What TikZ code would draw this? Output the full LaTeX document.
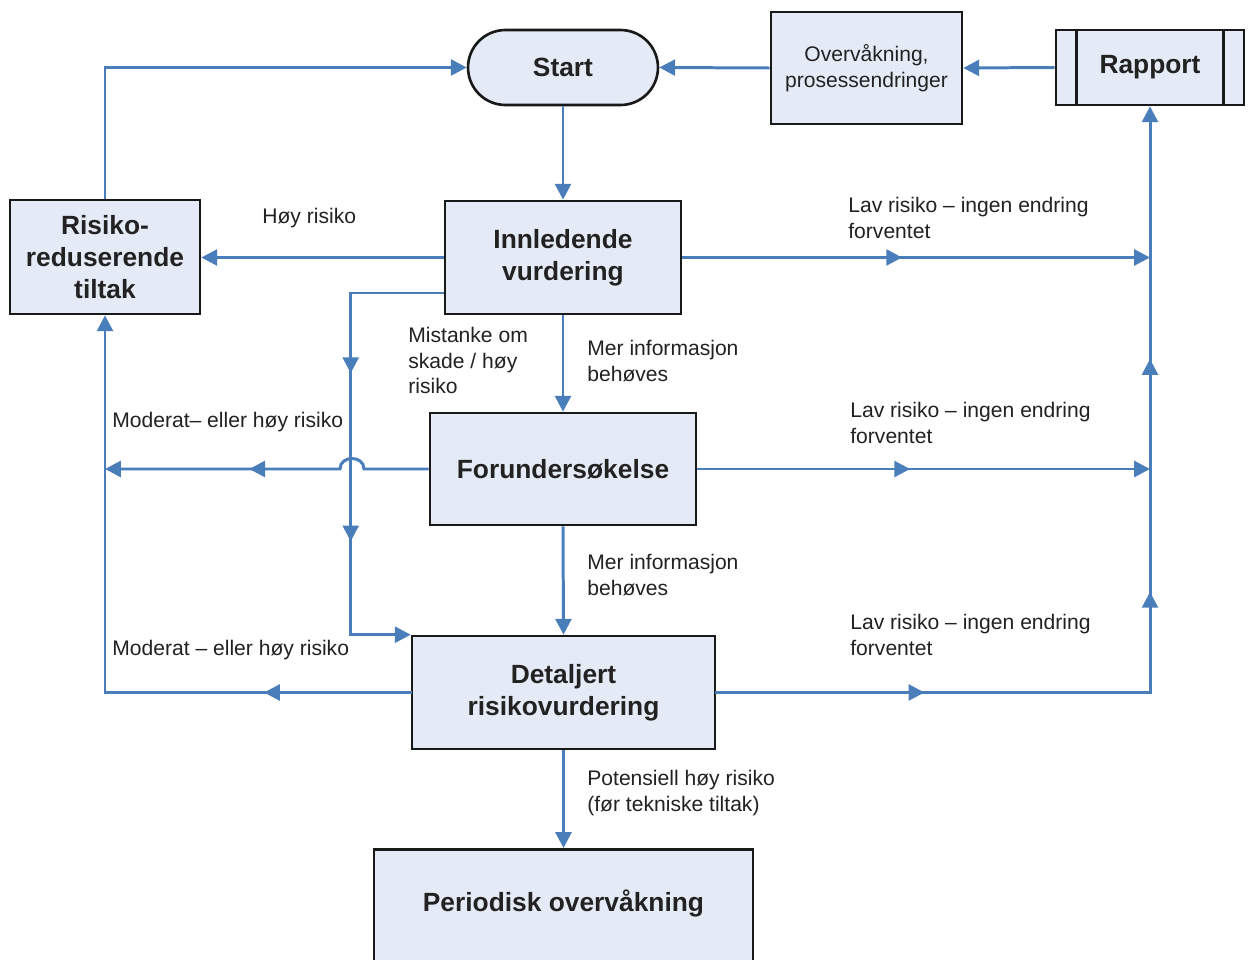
\documentclass[tikz,border=0pt]{standalone}
\usepackage{fontspec}
\setmainfont{Liberation Sans}
\usetikzlibrary{arrows.meta,shapes.misc,decorations.markings,calc}
\definecolor{flowblue}{RGB}{74,126,187}
\definecolor{boxfill}{RGB}{229,235,246}
\definecolor{txt}{RGB}{34,34,34}
\begin{document}
\begin{tikzpicture}[x=0.02cm,y=-0.02cm,
  box/.style={draw=black!90, line width=1.5pt, fill=boxfill, align=center, text=txt, font=\fontsize{15}{18}\selectfont\bfseries, inner sep=0pt},
  small/.style={font=\fontsize{12}{14.6}\selectfont, text=txt, align=left, inner sep=0pt, anchor=west},
  flow/.style={color=flowblue, line width=1.7pt},
  tip/.style={-{Triangle[length=9pt,width=9pt]}},
  midarrow/.style={postaction={decorate}, decoration={markings, mark=at position #1 with {\arrow{Triangle[length=9pt,width=9pt]}}}},
  twoarrows/.style 2 args={postaction={decorate}, decoration={markings, mark=at position #1 with {\arrow{Triangle[length=9pt,width=9pt]}}, mark=at position #2 with {\arrow{Triangle[length=9pt,width=9pt]}}}},
]
\useasboundingbox (0,0) rectangle (1248,960);
\clip (0,0) rectangle (1248,960);
\fill[white] (0,0) rectangle (1248,960);

% boxes
\node[box, rounded rectangle, minimum width=3.8cm, minimum height=1.5cm] (start) at (563,67.5) {Start};
\node[box, font=\fontsize{12}{14.5}\selectfont, minimum width=3.82cm, minimum height=2.24cm] (ov) at (866.5,68) {Overvåkning,\\prosessendringer};
\node[box, minimum width=3.76cm, minimum height=1.5cm] (rap) at (1150,67.5) {Rapport};
\draw[line width=1.5pt, draw=black!90] ([xshift=0.44cm]rap.north west) -- ([xshift=0.44cm]rap.south west);
\draw[line width=1.5pt, draw=black!90] ([xshift=-0.44cm]rap.north east) -- ([xshift=-0.44cm]rap.south east);
\node[box, minimum width=3.8cm, minimum height=2.28cm] (ris) at (105,257) {Risiko-\\reduserende\\tiltak};
\node[box, minimum width=4.72cm, minimum height=2.26cm] (inn) at (563,257.5) {Innledende\\vurdering};
\node[box, minimum width=5.32cm, minimum height=2.24cm] (for) at (563,469) {Forundersøkelse};
\node[box, minimum width=6.06cm, minimum height=2.26cm] (det) at (563.5,692.5) {Detaljert\\risikovurdering};
\node[box, minimum width=7.58cm, minimum height=2.8cm, anchor=north] (per) at (563.5,848) {};
\node[box, draw=none, fill=none] (pertext) at (563.5,903) {Periodisk overvåkning};

% coordinates
\coordinate (r1) at (1150,257.5);
\coordinate (r2) at (1150,469);
\coordinate (r3) at (1150,692.5);
\coordinate (l2) at (105,469);
\coordinate (l3) at (105,692.5);
\coordinate (m0) at ($(inn.west)+(0,35.5)$);
\coordinate (m1) at ($(det.north west)+(-60,0)$);
\coordinate (j1) at (364,469);
\coordinate (j2) at (340,469);

% straight connectors
\draw[flow,tip] (start.south) -- (inn.north);
\draw[flow,tip] (ov.west) -- (start.east);
\draw[flow,tip] (rap.west) -- (ov.east);
\draw[flow,tip] (ris.north) |- (start.west);
\draw[flow,tip] (inn.west) -- (inn.west -| ris.east);
\draw[flow,tip] (inn.south) -- (for.north);
\draw[flow,tip] (for.south) -- (det.north);
\draw[flow,tip] (det.south) -- (per.north);

% right side
\draw[flow,tip,midarrow=0.47] (inn.east) -- (r1);
\draw[flow,tip,midarrow=0.47] (for.east) -- (r2);
\draw[flow,line cap=rect,midarrow=0.48] (det.east) -- (r3);
\draw[flow,line cap=rect,midarrow=0.45] (r3) -- (r2);
\draw[flow,midarrow=0.52] (r2) -- (r1);
\draw[flow,tip] (r1) -- (rap.south);

% left side
\draw[flow,tip,midarrow=0.57] (for.west) -- (j1) .. controls (364,455) and (340,455) .. (j2) -- (l2);
\draw[flow,line cap=rect,midarrow=0.48] (det.west) -- (l3);
\draw[flow,tip] (l3) -- (ris.south);
\draw[flow,tip,twoarrows={0.35}{0.69}] (m0) -| (m1) -- (det.north west);

% labels
\node[small] (lbl1) at (262,218) {Høy risiko};
\node[small] (lbl2) at (848,218) {Lav risiko – ingen endring\\forventet};
\node[small] (lbl3) at (850,423) {Lav risiko – ingen endring\\forventet};
\node[small] (lbl4) at (850,635) {Lav risiko – ingen endring\\forventet};
\node[small] (lbl5) at (408,360.5) {Mistanke om\\skade / høy\\risiko};
\node[small] (lbl6) at (587,361) {Mer informasjon\\behøves};
\node[small] (lbl7) at (587,575) {Mer informasjon\\behøves};
\node[small] (lbl8) at (587,793) {Potensiell høy risiko\\(før tekniske tiltak)};
\node[small] (lbl9) at (112,422) {Moderat– eller høy risiko};
\node[small] (lbl10) at (112,650) {Moderat – eller høy risiko};
\end{tikzpicture}
\end{document}
